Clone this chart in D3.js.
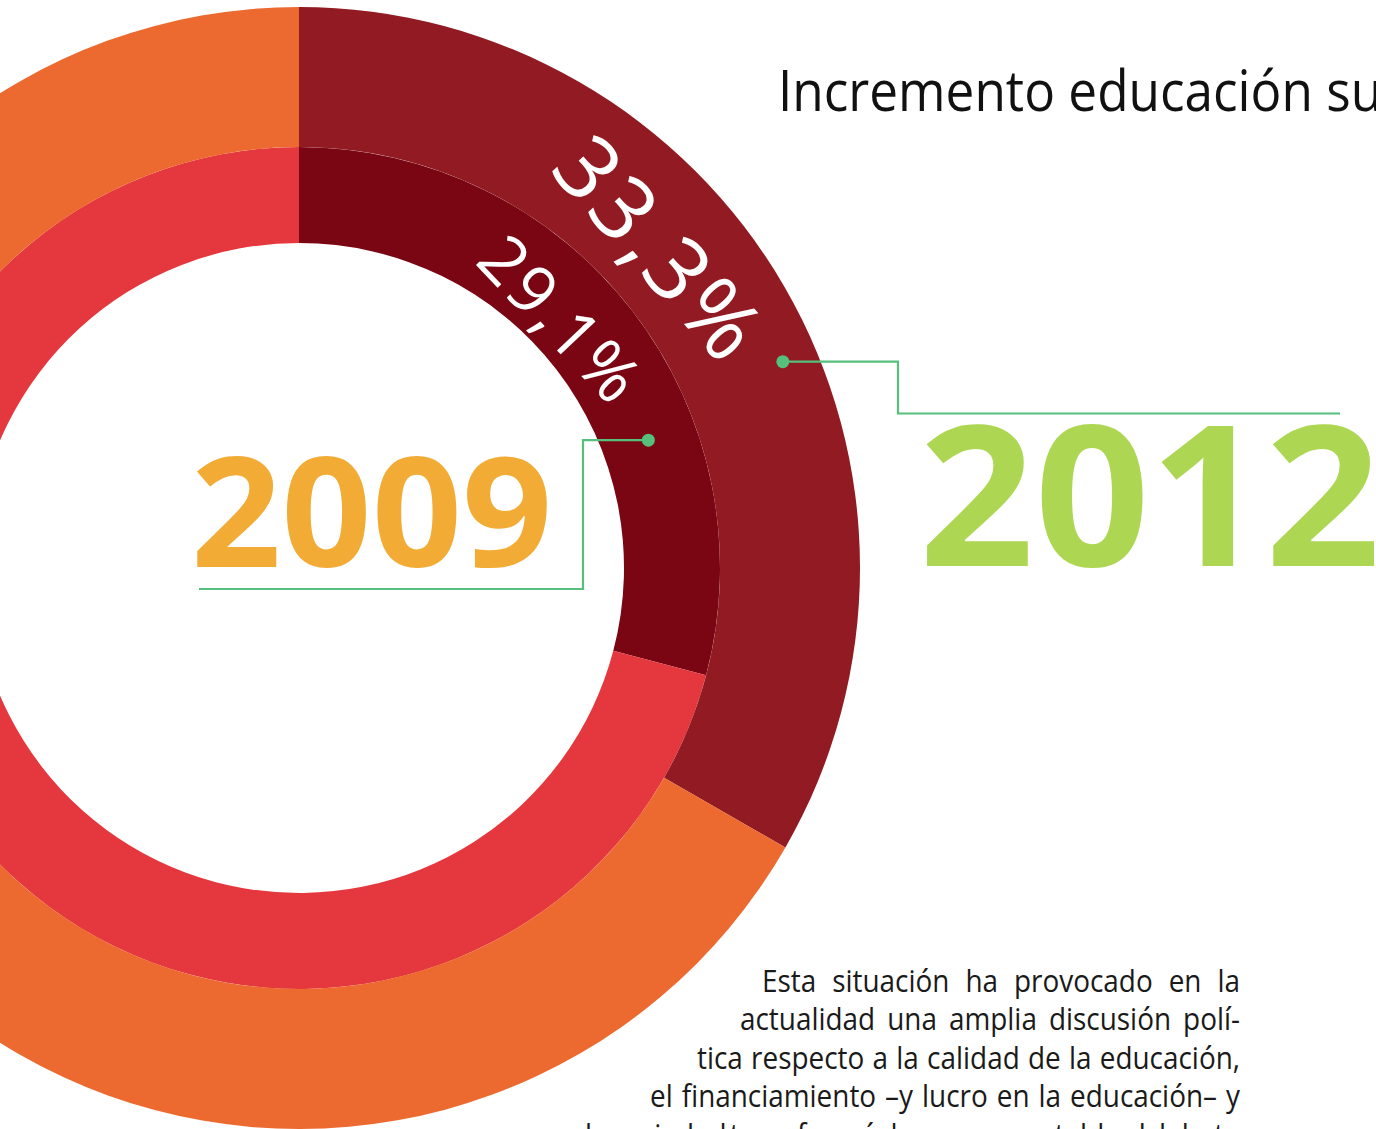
<!DOCTYPE html>
<html><head><meta charset="utf-8">
<script src="https://cdn.jsdelivr.net/npm/d3@7"></script>
<style>
html,body{margin:0;padding:0;background:#fff;overflow:hidden}
svg{display:block}
</style></head><body>
<svg id="chart" width="1376" height="1129"></svg>
<script>
// ---- data ----
const years = ["2009", "2012"];
const shares = [29.1, 33.3];
const shareLabels = ["29,1%", "33,3%"];
const title = "Incremento educación superior";
const paragraph = [
  "Esta situación ha provocado en la",
  "actualidad una amplia discusión polí-",
  "tica respecto a la calidad de la educación,",
  "el financiamiento –y lucro en la educación– y",
  "la sociedad transformó de manera notable el debate"
];

// ---- layout ----
const W = 1376, H = 1129;
const cx = 299, cy = 568;
const rings = [
  {inner: 325, outer: 421, colors: ["#7A0613", "#E5383E"], label: {angle: 46.5, r: 363, size: 67, ls: 3}, dot: {angle: 69.9, r: 372}},
  {inner: 421, outer: 561, colors: ["#921A22", "#EC6A2F"], label: {angle: 48.5, r: 484, size: 88, ls: 4}, dot: {angle: 66.9, r: 526}}
];
const font = "'Open Sans', 'Noto Sans', sans-serif";
const green = "#55BF7B";

const svg = d3.select("#chart");
svg.append("rect").attr("width", W).attr("height", H).attr("fill", "#fff");

const angle = d3.scaleLinear().domain([0, 100]).range([0, 2 * Math.PI]);
const pie = d3.pie().sort(null).value(d => d);

const g = svg.append("g").attr("transform", `translate(${cx},${cy})`);

rings.forEach((ring, i) => {
  const arcs = pie([shares[i], 100 - shares[i]]).map(d => ({...d,
    startAngle: angle(d.startAngle / (2 * Math.PI) * 100),
    endAngle: angle(d.endAngle / (2 * Math.PI) * 100)}));
  const arc = d3.arc().innerRadius(ring.inner).outerRadius(ring.outer);
  g.selectAll(null).data(arcs).enter().append("path")
    .attr("d", arc)
    .attr("fill", (d, j) => ring.colors[j]);
});

function polar(aDeg, r) {
  const a = aDeg * Math.PI / 180;
  return [r * Math.sin(a), -r * Math.cos(a)];
}

// rotated percentage labels
rings.forEach((ring, i) => {
  const [x, y] = polar(ring.label.angle, ring.label.r);
  g.append("text")
    .attr("transform", `translate(${x},${y}) rotate(${ring.label.angle})`)
    .attr("text-anchor", "middle")
    .attr("dominant-baseline", "central")
    .attr("font-family", font)
    .attr("font-size", ring.label.size)
    .attr("letter-spacing", ring.label.ls)
    .attr("fill", "#fff")
    .text(shareLabels[i]);
});

// title
svg.append("text")
  .attr("transform", "translate(778,111) scale(0.9,1)")
  .attr("font-family", font)
  .attr("font-size", 57)
  .attr("fill", "#111")
  .text(title);

// years
svg.append("text")
  .attr("transform", "translate(191,567) scale(1.04,1)")
  .attr("font-family", font).attr("font-weight", 700)
  .attr("font-size", 152).attr("fill", "#F2AC36")
  .text(years[0]);
svg.append("text")
  .attr("transform", "translate(919,566) scale(1.035,1)")
  .attr("font-family", font).attr("font-weight", 700)
  .attr("font-size", 195).attr("fill", "#ADD652")
  .text(years[1]);

// leader lines
const dIn = polar(rings[0].dot.angle, rings[0].dot.r).map((v, k) => v + (k ? cy : cx));
const dOut = polar(rings[1].dot.angle, rings[1].dot.r).map((v, k) => v + (k ? cy : cx));
const line = d3.line();
svg.append("path")
  .attr("d", line([dIn, [583, dIn[1]], [583, 589], [199, 589]]))
  .attr("fill", "none").attr("stroke", green).attr("stroke-width", 2.2);
svg.append("path")
  .attr("d", line([dOut, [898, dOut[1]], [898, 413.5], [1340, 413.5]]))
  .attr("fill", "none").attr("stroke", green).attr("stroke-width", 2.2);
[dIn, dOut].forEach(p => svg.append("circle").attr("cx", p[0]).attr("cy", p[1]).attr("r", 6.5).attr("fill", green));

// paragraph (justified between a curved left edge and a straight right edge)
const sx = 0.9;
const lineLeft = [762, 740, 697, 650, 585];
const baselines = [992, 1030.5, 1069, 1107.5, 1146];
const pg = svg.append("g").attr("transform", `scale(${sx},1)`)
  .attr("font-family", font).attr("font-size", 31).attr("fill", "#1a1a1a");
paragraph.forEach((ln, i) => {
  const words = ln.split(" ");
  const L = lineLeft[i] / sx, R = 1240 / sx;
  const t = pg.append("text").attr("y", baselines[i]);
  const spans = words.map(w => t.append("tspan").text(w));
  const widths = spans.map(s => s.node().getComputedTextLength());
  const gap = (R - L - d3.sum(widths)) / (words.length - 1);
  let x = L;
  spans.forEach((s, j) => { s.attr("x", x); x += widths[j] + gap; });
});
</script>
</body></html>
